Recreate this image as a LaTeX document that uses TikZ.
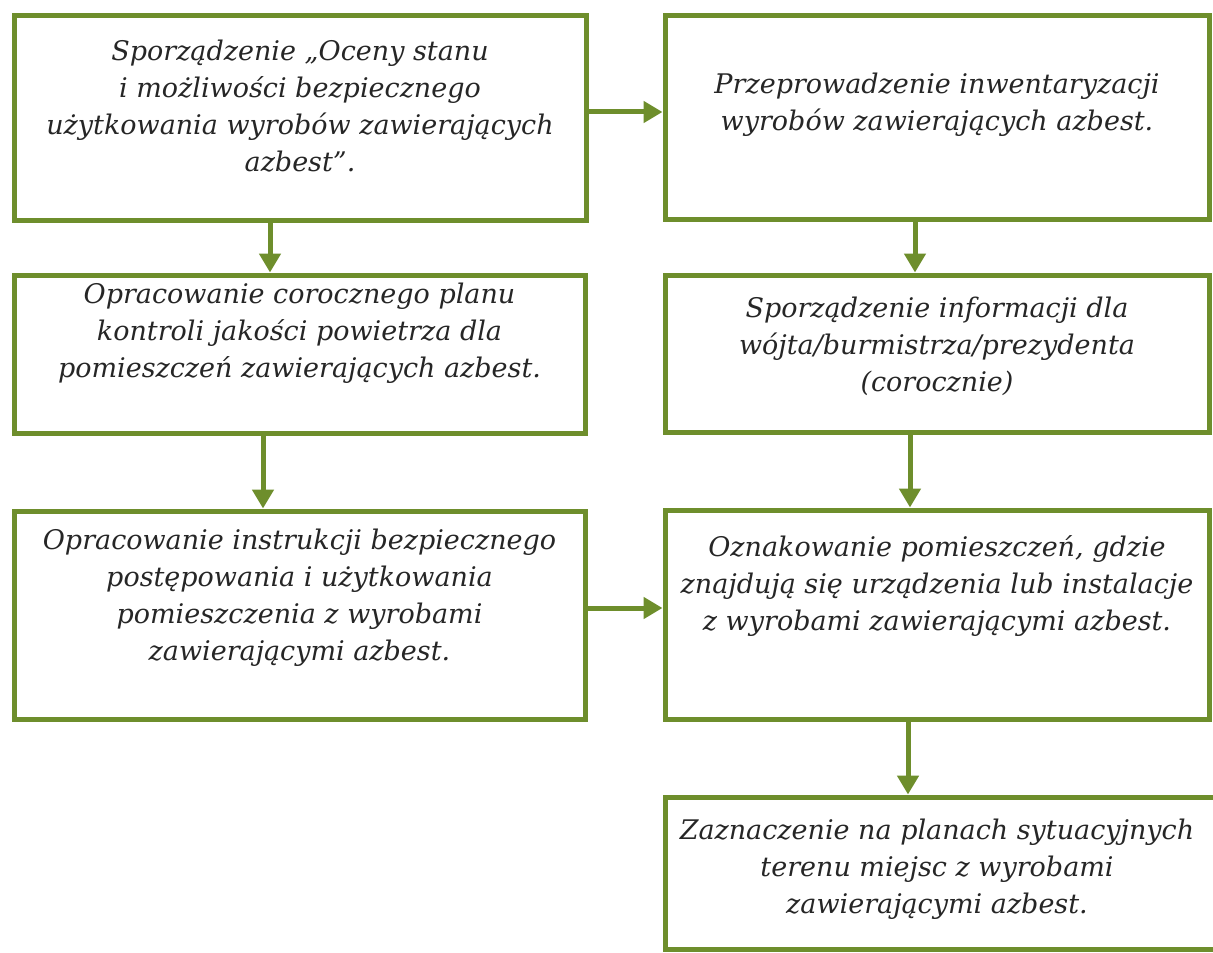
\documentclass[tikz,border=0pt]{standalone}
\usepackage{fontspec}
\setmainfont{DejaVu Serif}
\usetikzlibrary{arrows.meta}
\definecolor{boxgreen}{RGB}{110,142,44}

\begin{document}
\begin{tikzpicture}[x=0.5pt,y=-0.5pt,>={Triangle[length=9.5pt,width=10.5pt]},
  stepbox/.style={draw=boxgreen,line width=2.5pt,inner sep=0pt},
  steptext/.style={align=center,text=black!85,font=\fontsize{13.5pt}{18.5pt}\selectfont\itshape},
  link/.style={->,draw=boxgreen,line width=2.5pt}]

\useasboundingbox[fill=white] (0,0) rectangle (1213,952);

\node[stepbox,minimum width=286pt,minimum height=102pt] (ocena) at (300,118) {};
\node[steptext] (ocenaTxt) at (300,106.5) {Sporządzenie „Oceny stanu\\ i możliwości bezpiecznego\\ użytkowania wyrobów zawierających\\ azbest”.};

\node[stepbox,minimum width=272pt,minimum height=101.5pt] (inw) at (937,117.5) {};
\node[steptext] (inwTxt) at (937,105) {Przeprowadzenie inwentaryzacji\\ wyrobów zawierających azbest.};

\node[stepbox,minimum width=285.5pt,minimum height=79pt] (plan) at (299.5,354) {};
\node[steptext] (planTxt) at (299.5,333) {Opracowanie corocznego planu\\ kontroli jakości powietrza dla\\ pomieszczeń zawierających azbest.};

\node[stepbox,minimum width=272pt,minimum height=78.5pt] (info) at (937,353.5) {};
\node[steptext] (infoTxt) at (937,346) {Sporządzenie informacji dla\\ wójta/burmistrza/prezydenta\\ (corocznie)};

\node[stepbox,minimum width=285.5pt,minimum height=104pt] (instr) at (299.5,615) {};
\node[steptext] (instrTxt) at (299.5,598) {Opracowanie instrukcji bezpiecznego\\ postępowania i użytkowania\\ pomieszczenia z wyrobami\\ zawierającymi azbest.};

\node[stepbox,minimum width=272pt,minimum height=104.5pt] (ozn) at (937,614.5) {};
\node[steptext] (oznTxt) at (937,586) {Oznakowanie pomieszczeń, gdzie\\ znajdują się urządzenia lub instalacje\\ z wyrobami zawierającymi azbest.};

\node[stepbox,minimum width=276.5pt,minimum height=76pt] (plany) at (941.5,873) {};
\node[steptext] (planyTxt) at (937,869) {Zaznaczenie na planach sytuacyjnych\\ terenu miejsc z wyrobami\\ zawierającymi azbest.};

\draw[link] ([yshift=3pt]ocena.east) -- ([yshift=3pt]ocena.east -| inw.west);
\draw[link] ([xshift=-15pt]ocena.south) -- ([xshift=-15pt]ocena.south |- plan.north);
\draw[link] ([xshift=-18.25pt]plan.south) -- ([xshift=-18.25pt]plan.south |- instr.north);
\draw[link] ([yshift=3.5pt]instr.east) -- ([yshift=3.5pt]instr.east -| ozn.west);

\draw[link] ([xshift=-11pt]inw.south) -- ([xshift=-11pt]inw.south |- info.north);
\draw[link] ([xshift=-13.5pt]info.south) -- ([xshift=-13.5pt]info.south |- ozn.north);
\draw[link] ([xshift=-14.5pt]ozn.south) -- ([xshift=-14.5pt]ozn.south |- plany.north);

\end{tikzpicture}
\end{document}
